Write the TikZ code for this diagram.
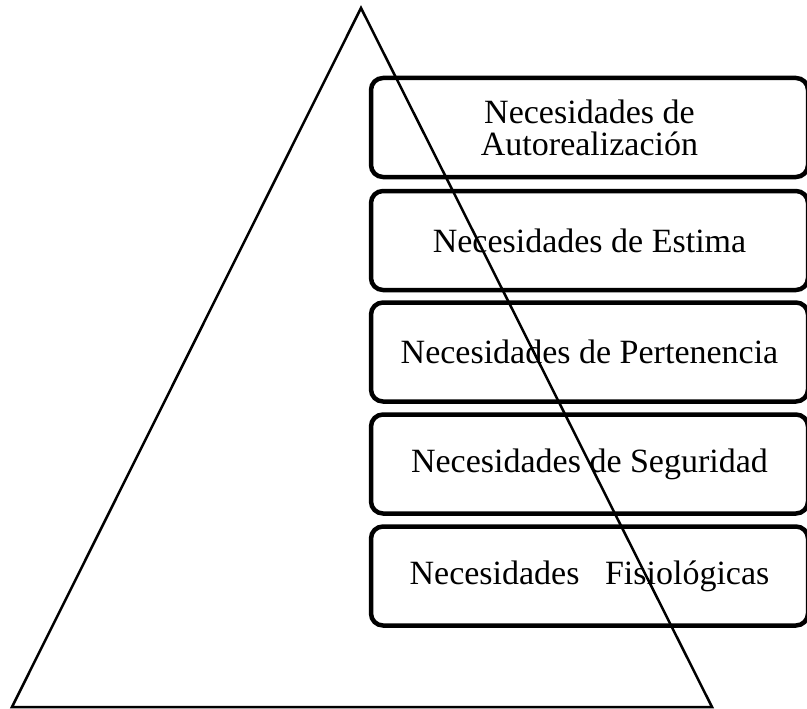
\documentclass[tikz,border=0pt]{standalone}
\usepackage{fontspec}
\setmainfont{Liberation Serif}
\usepackage{tikz}
\tikzset{
  needbox/.style={draw, line width=4.5pt, rounded corners=12pt, minimum width=437pt, minimum height=99pt, align=center, inner sep=0pt, font=\fontsize{34}{32}\selectfont}
}

\begin{document}
\begin{tikzpicture}[x=1pt,y=-1pt]

% Page frame, same size as the original figure
\useasboundingbox (0,0) rectangle (807,709);

% Need boxes, cut off at the right margin
\begin{scope}
\clip (0,0) rectangle (807,709);
\foreach \y/\txt [count=\i] in {127.5/{Necesidades de\\Autorealización}, 240.5/{Necesidades de Estima}, 352/{Necesidades de Pertenencia}, 464/{Necesidades de Seguridad}, 576/{Necesidades\ \ \ Fisiológicas}}
{
    \node[needbox] (need\i) at (589.5,\y) {\txt};
}
\end{scope}

% Triangle drawn on top of the boxes
\coordinate (apex) at (361,8);
\coordinate (baseL) at (12,707);
\coordinate (baseR) at (712,707);
\draw[line width=2.5pt] (apex) -- (baseL) -- (baseR) -- cycle;

\end{tikzpicture}
\end{document}
